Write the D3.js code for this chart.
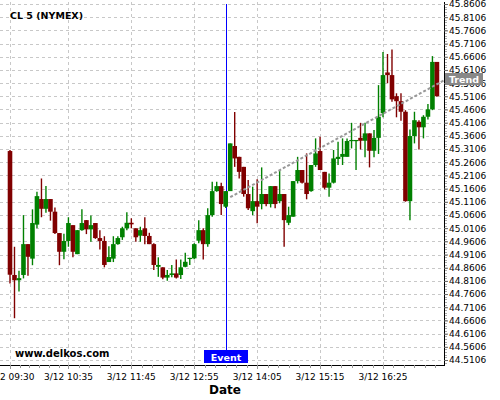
<!DOCTYPE html>
<html>
<head>
<meta charset="utf-8">
<script src="https://cdn.jsdelivr.net/npm/d3@7"></script>
<style>
  body { margin: 0; background: #fff; }
  text { font-family: "DejaVu Sans", sans-serif; }
</style>
</head>
<body>
<div id="chart"></div>
<script>
// 5 minute candles, 3/12 09:30 .. 17:25
var startTime = "2015-03-12 09:30",
    stepMinutes = 5;

var opens = [45.303,44.833,44.813,44.833,44.950,44.895,45.024,45.121,45.084,45.121,
  45.073,44.992,44.921,44.962,45.022,44.912,45.003,45.041,45.006,45.030,
  44.973,44.962,44.882,44.895,44.950,44.976,45.010,45.031,45.010,44.982,
  45.010,44.981,44.950,44.864,44.862,44.823,44.833,44.839,44.833,44.864,
  44.895,44.896,44.963,45.003,44.950,45.060,45.151,45.170,45.092,45.151,
  45.322,45.281,45.243,45.140,45.075,45.113,45.102,45.140,45.102,45.170,
  45.113,45.140,45.031,45.054,45.189,45.231,45.183,45.151,45.250,45.303,
  45.224,45.164,45.183,45.273,45.281,45.281,45.341,45.342,45.353,45.342,
  45.370,45.304,45.353,45.447,45.601,45.591,45.511,45.492,45.452,45.113,
  45.360,45.414,45.393,45.433,45.461,45.641];
var highs = [45.307,44.940,44.849,45.060,44.950,45.082,45.149,45.199,45.170,45.121,
  45.089,44.992,44.989,45.052,45.022,45.003,45.082,45.041,45.059,45.030,
  45.003,44.980,44.942,44.980,44.980,45.016,45.071,45.048,45.010,45.016,
  45.052,44.993,44.953,44.900,44.862,44.852,44.871,44.892,44.892,44.917,
  44.898,44.953,45.041,45.010,45.086,45.187,45.187,45.183,45.151,45.332,
  45.451,45.281,45.243,45.193,45.168,45.196,45.241,45.140,45.170,45.170,
  45.231,45.140,45.092,45.189,45.281,45.231,45.294,45.250,45.351,45.357,
  45.224,45.218,45.307,45.338,45.351,45.351,45.410,45.345,45.410,45.410,
  45.370,45.383,45.553,45.679,45.671,45.688,45.522,45.522,45.458,45.385,
  45.452,45.420,45.439,45.481,45.663,45.641];
var lows = [44.801,44.669,44.770,44.820,44.830,44.870,45.010,45.052,45.069,45.039,
  44.988,44.870,44.893,44.940,44.900,44.912,45.001,44.988,44.959,44.970,
  44.930,44.862,44.882,44.882,44.948,44.966,45.003,45.010,44.959,44.959,
  44.950,44.950,44.852,44.826,44.817,44.811,44.824,44.820,44.818,44.862,
  44.871,44.893,44.953,44.892,44.940,45.054,45.149,45.060,45.087,45.151,
  45.243,45.199,45.130,45.079,45.060,45.029,45.082,45.094,45.089,45.086,
  45.105,44.940,45.022,45.054,45.180,45.180,45.120,45.149,45.243,45.231,
  45.158,45.130,45.180,45.250,45.250,45.281,45.313,45.231,45.309,45.279,
  45.241,45.279,45.292,45.431,45.560,45.490,45.431,45.418,45.111,45.041,
  45.332,45.309,45.351,45.423,45.458,45.509];
var closes = [44.834,44.813,44.821,44.950,44.902,45.030,45.132,45.084,45.121,45.073,
  44.992,44.921,44.962,45.030,44.921,45.003,45.030,45.006,45.022,44.973,
  44.962,44.871,44.901,44.950,44.973,45.010,45.031,45.025,44.976,45.003,
  44.981,44.950,44.871,44.871,44.823,44.833,44.839,44.823,44.862,44.883,
  44.898,44.950,45.003,44.950,45.060,45.151,45.170,45.102,45.151,45.332,
  45.275,45.224,45.140,45.086,45.113,45.092,45.140,45.102,45.170,45.102,
  45.140,45.041,45.060,45.189,45.231,45.183,45.140,45.250,45.294,45.231,
  45.164,45.183,45.275,45.281,45.292,45.341,45.345,45.345,45.342,45.370,
  45.304,45.353,45.433,45.591,45.591,45.499,45.492,45.452,45.113,45.360,
  45.420,45.393,45.433,45.461,45.641,45.511];

var xTickTimes = ["2015-03-12 09:30","2015-03-12 10:35","2015-03-12 11:45",
  "2015-03-12 12:55","2015-03-12 14:05","2015-03-12 15:15","2015-03-12 16:25"];
var yTickFirst = 44.5106, yTickStep = 0.05, yTickCount = 28;

var eventTime = "2015-03-12 13:30";
var trendStart = ["2015-03-12 13:35", 45.128],
    trendEnd = ["2015-03-12 17:35", 45.575];

var width = 500, height = 400,
    plotLeft = 0, plotRight = 444, plotTop = 2, plotBottom = 365;

var parse = d3.timeParse("%Y-%m-%d %H:%M"),
    fmtX = d3.timeFormat("%-m/%d %H:%M"),
    fmtY = d3.format(".4f");

var t0 = parse(startTime);
var candles = opens.map(function(o, i) {
  return { t: d3.timeMinute.offset(t0, i * stepMinutes), o: o, h: highs[i], l: lows[i], c: closes[i] };
});

var xTicks = xTickTimes.map(parse);
var yTicks = d3.range(yTickCount).map(function(k) { return +(yTickFirst + k * yTickStep).toFixed(4); });

var x = d3.scaleTime()
    .domain([xTicks[0], xTicks[xTicks.length - 1]])
    .range([10, 383]);
var y = d3.scaleLinear()
    .domain([yTicks[0], yTicks[yTicks.length - 1]])
    .range([360, 4]);

var svg = d3.select("#chart").append("svg")
    .attr("width", width)
    .attr("height", height);

svg.append("defs").append("clipPath").attr("id", "plotclip")
  .append("rect")
    .attr("x", plotLeft).attr("y", plotTop)
    .attr("width", plotRight - plotLeft).attr("height", plotBottom - plotTop);

// grid
var grid = svg.append("g").attr("stroke", "#c8c8c8").attr("stroke-dasharray", "3,3");
grid.selectAll(".hg").data(yTicks).enter().append("line")
    .attr("x1", plotLeft).attr("x2", plotRight)
    .attr("y1", function(d) { return Math.round(y(d)) + 0.5; })
    .attr("y2", function(d) { return Math.round(y(d)) + 0.5; });
grid.selectAll(".vg").data(xTicks).enter().append("line")
    .attr("x1", function(d) { return Math.round(x(d)) + 0.5; })
    .attr("x2", function(d) { return Math.round(x(d)) + 0.5; })
    .attr("y1", plotTop).attr("y2", plotBottom);

// title + watermark
svg.append("text").attr("x", 10).attr("y", 19)
    .style("font-size", "9.5px").style("font-weight", "bold")
    .text("CL 5 (NYMEX)");
svg.append("text").attr("x", 15).attr("y", 357)
    .style("font-size", "10px").style("font-weight", "bold")
    .text("www.delkos.com");

var plot = svg.append("g").attr("clip-path", "url(#plotclip)");

// event line
var ex = Math.round(x(parse(eventTime))) + 0.5;
plot.append("line")
    .attr("x1", ex).attr("x2", ex)
    .attr("y1", 4).attr("y2", 350)
    .attr("stroke", "#0000ff").attr("stroke-width", 1);

// candles
var up = "#008000", down = "#800000", bodyW = 4.6;
var cg = plot.selectAll(".candle").data(candles).enter().append("g");
cg.append("line")
    .attr("x1", function(d) { return x(d.t); })
    .attr("x2", function(d) { return x(d.t); })
    .attr("y1", function(d) { return y(d.h); })
    .attr("y2", function(d) { return y(d.l); })
    .attr("stroke", function(d) { return d.c >= d.o ? up : down; })
    .attr("stroke-width", 1.4);
cg.append("rect")
    .attr("x", function(d) { return x(d.t) - bodyW / 2; })
    .attr("width", bodyW)
    .attr("y", function(d) { return y(Math.max(d.o, d.c)); })
    .attr("height", function(d) { return Math.max(1.2, Math.abs(y(d.o) - y(d.c))); })
    .attr("fill", function(d) { return d.c >= d.o ? up : down; });

// trend
plot.append("line")
    .attr("x1", x(parse(trendStart[0]))).attr("y1", y(trendStart[1]))
    .attr("x2", x(parse(trendEnd[0]))).attr("y2", y(trendEnd[1]))
    .attr("stroke", "#999").attr("stroke-width", 2).attr("stroke-dasharray", "3,2");

// axes
var xAxis = svg.append("g").attr("transform", "translate(0," + plotBottom + ")");
xAxis.append("line").attr("x1", plotLeft).attr("x2", plotRight)
    .attr("y1", 0.5).attr("y2", 0.5).attr("stroke", "#000");
var xMinor = [];
for (var i = 0; i < xTicks.length - 1; i++) {
  var a = x(xTicks[i]), b = x(xTicks[i + 1]);
  for (var k = 1; k < 6; k++) xMinor.push(a + (b - a) * k / 6);
}
var lastGap = x(xTicks[1]) - x(xTicks[0]);
for (var k = 1; x(xTicks[xTicks.length - 1]) + (x(xTicks[2]) - x(xTicks[1])) * k / 6 < plotRight; k++)
  xMinor.push(x(xTicks[xTicks.length - 1]) + (x(xTicks[2]) - x(xTicks[1])) * k / 6);
xAxis.selectAll(".xm").data(xMinor).enter().append("line")
    .attr("x1", function(d) { return Math.round(d) + 0.5; })
    .attr("x2", function(d) { return Math.round(d) + 0.5; })
    .attr("y1", 0).attr("y2", 3).attr("stroke", "#999");
xAxis.selectAll(".xt").data(xTicks).enter().append("line")
    .attr("x1", function(d) { return Math.round(x(d)) + 0.5; })
    .attr("x2", function(d) { return Math.round(x(d)) + 0.5; })
    .attr("y1", 0).attr("y2", 4).attr("stroke", "#999");
xAxis.selectAll(".xl").data(xTicks).enter().append("text")
    .attr("x", function(d) { return x(d); })
    .attr("y", 15)
    .attr("text-anchor", "middle")
    .style("font-size", "9px")
    .attr("fill", "#000")
    .text(function(d) { return fmtX(d); });

var yAxisG = svg.append("g").attr("transform", "translate(" + plotRight + ",0)");
yAxisG.append("line").attr("x1", 0.5).attr("x2", 0.5)
    .attr("y1", plotTop).attr("y2", plotBottom + 1).attr("stroke", "#000");
var yMinor = d3.range(yTicks[0] - 0.01, yTicks[yTicks.length - 1] + 0.001, 0.01);
yAxisG.selectAll(".ym").data(yMinor).enter().append("line")
    .attr("x1", 1).attr("x2", 3)
    .attr("y1", function(d) { return Math.round(y(d)) + 0.5; })
    .attr("y2", function(d) { return Math.round(y(d)) + 0.5; })
    .attr("stroke", "#aaa");
yAxisG.call(d3.axisRight(y).tickValues(yTicks).tickFormat(fmtY).tickSize(4).tickPadding(1))
    .call(function(g) { g.select(".domain").remove(); })
    .call(function(g) { g.selectAll(".tick line").attr("stroke", "#666"); })
    .call(function(g) { g.selectAll(".tick text").style("font-size", "9px").attr("fill", "#000")
        .style("font-family", "DejaVu Sans, sans-serif"); });

// event label
var ev = svg.append("g");
ev.append("rect").attr("x", 204).attr("y", 350).attr("width", 44).attr("height", 13).attr("fill", "#0000ff");
ev.append("text").attr("x", 226).attr("y", 360.5).attr("text-anchor", "middle")
    .style("font-size", "9.5px").style("font-weight", "bold").attr("fill", "#fff").text("Event");

// trend label
var tr = svg.append("g");
tr.append("rect").attr("x", 445).attr("y", 73).attr("width", 38).attr("height", 12).attr("fill", "#888");
tr.append("text").attr("x", 464).attr("y", 83).attr("text-anchor", "middle")
    .style("font-size", "9.5px").style("font-weight", "bold").attr("fill", "#fff").text("Trend");

// axis title
svg.append("text").attr("x", 225).attr("y", 394).attr("text-anchor", "middle")
    .style("font-size", "12px").style("font-weight", "bold").text("Date");
</script>
</body>
</html>
